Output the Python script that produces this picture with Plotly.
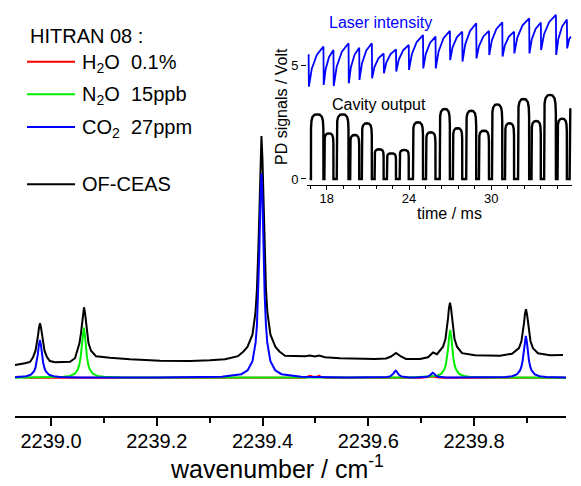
import plotly.graph_objects as go

# ---------------- main spectrum (wavenumber / cm-1, absorption in arbitrary units) ----------------
wn_tick_vals = [2239.0, 2239.2, 2239.4, 2239.6, 2239.8]
wn_tick_text = ["2239.0", "2239.2", "2239.4", "2239.6", "2239.8"]

h2o_wn = [2238.932, 2238.936, 2238.939, 2238.944, 2238.960, 2239.480, 2239.487, 2239.490, 2239.494, 2239.499,
          2239.504, 2239.507, 2239.511, 2239.518, 2239.700, 2239.716, 2239.721, 2239.726, 2239.740, 2239.974]
h2o_abs = [0.008, 0.012, 0.010, 0.004, 0.0, 0.0, 0.012, 0.020, 0.012, 0.006,
           0.012, 0.018, 0.008, 0.0, 0.0, 0.006, 0.012, 0.006, 0.0, 0.0]

n2o_wn = [2238.932, 2238.987, 2239.024, 2239.036, 2239.045, 2239.051, 2239.0535, 2239.056, 2239.058, 2239.060,
          2239.062, 2239.064, 2239.066, 2239.068, 2239.0705, 2239.073, 2239.079, 2239.088, 2239.100, 2239.137,
          2239.680, 2239.717, 2239.729, 2239.738, 2239.744, 2239.7465, 2239.749, 2239.751, 2239.753, 2239.755,
          2239.757, 2239.759, 2239.761, 2239.7635, 2239.766, 2239.772, 2239.781, 2239.793, 2239.830, 2239.974]
n2o_abs = [0.0, 0.002, 0.009, 0.018, 0.040, 0.087, 0.129, 0.206, 0.305, 0.431,
           0.500, 0.431, 0.305, 0.206, 0.129, 0.087, 0.040, 0.018, 0.009, 0.002,
           0.002, 0.008, 0.017, 0.038, 0.083, 0.123, 0.196, 0.291, 0.411, 0.477,
           0.411, 0.291, 0.196, 0.123, 0.083, 0.038, 0.017, 0.008, 0.002, 0.0]

co2_wn = [2238.932, 2238.941, 2238.953, 2238.962, 2238.968, 2238.9705, 2238.973, 2238.975, 2238.977, 2238.979,
          2238.981, 2238.983, 2238.985, 2238.9875, 2238.990, 2238.996, 2239.005, 2239.017, 2239.054, 2239.200,
          2239.323, 2239.360, 2239.372, 2239.381, 2239.387, 2239.3895, 2239.392, 2239.394, 2239.396, 2239.398,
          2239.400, 2239.402, 2239.404, 2239.4065, 2239.409, 2239.415, 2239.424, 2239.436, 2239.473, 2239.560,
          2239.614, 2239.626, 2239.635, 2239.641, 2239.646, 2239.648, 2239.650, 2239.652, 2239.654, 2239.656,
          2239.658, 2239.663, 2239.669, 2239.678, 2239.690,
          2239.705, 2239.711, 2239.716, 2239.718, 2239.720, 2239.722, 2239.724, 2239.726, 2239.728, 2239.733,
          2239.739, 2239.748, 2239.760,
          2239.823, 2239.860, 2239.872, 2239.881, 2239.887, 2239.8895, 2239.892, 2239.894, 2239.896, 2239.898,
          2239.900, 2239.902, 2239.904, 2239.9065, 2239.909, 2239.915, 2239.924, 2239.936, 2239.974]
co2_abs = [0.004, 0.006, 0.014, 0.030, 0.065, 0.097, 0.155, 0.230, 0.325, 0.377,
           0.325, 0.230, 0.155, 0.097, 0.065, 0.030, 0.014, 0.006, 0.002, 0.001,
           0.009, 0.035, 0.074, 0.164, 0.354, 0.527, 0.840, 1.247, 1.762, 2.044,
           1.762, 1.247, 0.840, 0.527, 0.354, 0.164, 0.074, 0.035, 0.009, 0.002,
           0.001, 0.003, 0.006, 0.012, 0.029, 0.043, 0.060, 0.070, 0.060, 0.043,
           0.029, 0.012, 0.006, 0.003, 0.002,
           0.004, 0.009, 0.021, 0.031, 0.043, 0.050, 0.043, 0.031, 0.021, 0.009,
           0.004, 0.002, 0.001,
           0.002, 0.007, 0.015, 0.033, 0.072, 0.108, 0.171, 0.254, 0.359, 0.417,
           0.359, 0.254, 0.171, 0.108, 0.072, 0.033, 0.015, 0.007, 0.003]

ceas_wn = [2238.9319, 2238.9414, 2238.9508, 2238.9603, 2238.9660, 2238.9707, 2238.9735, 2238.9754, 2238.9773, 2238.9792,
           2238.9811, 2238.9830, 2238.9849, 2238.9877, 2238.9924, 2238.9980, 2239.0076, 2239.0208, 2239.0359, 2239.0454,
           2239.0492, 2239.0539, 2239.0567, 2239.0586, 2239.0605, 2239.0624, 2239.0643, 2239.0662, 2239.0681, 2239.0709,
           2239.0756, 2239.0851, 2239.1116, 2239.1494, 2239.2061, 2239.2629, 2239.3007, 2239.3291, 2239.3535, 2239.3640,
           2239.3715, 2239.3810, 2239.3867, 2239.3895, 2239.3923, 2239.3942, 2239.3961, 2239.3980, 2239.3999, 2239.4018,
           2239.4037, 2239.4065, 2239.4093, 2239.4150, 2239.4245, 2239.4320, 2239.4426, 2239.4671, 2239.4804, 2239.4898,
           2239.4993, 2239.5069, 2239.5182, 2239.5466, 2239.5844, 2239.6128, 2239.6336, 2239.6430, 2239.6525, 2239.6619,
           2239.6714, 2239.6979, 2239.7130, 2239.7225, 2239.7300, 2239.7414, 2239.7461, 2239.7489, 2239.7508, 2239.7527,
           2239.7546, 2239.7565, 2239.7584, 2239.7603, 2239.7631, 2239.7678, 2239.7773, 2239.8019, 2239.8303, 2239.8492,
           2239.8719, 2239.8851, 2239.8898, 2239.8926, 2239.8945, 2239.8964, 2239.8983, 2239.9002, 2239.9021, 2239.9040,
           2239.9068, 2239.9115, 2239.9210, 2239.9437, 2239.9683]
ceas_abs = [0.127, 0.134, 0.144, 0.157, 0.205, 0.270, 0.345, 0.420, 0.500, 0.544,
            0.500, 0.420, 0.345, 0.270, 0.205, 0.167, 0.154, 0.154, 0.160, 0.195,
            0.269, 0.347, 0.445, 0.543, 0.649, 0.704, 0.649, 0.543, 0.445, 0.347,
            0.269, 0.215, 0.200, 0.184, 0.170, 0.167, 0.174, 0.184, 0.215, 0.262,
            0.307, 0.430, 0.650, 0.888, 1.310, 1.732, 2.190, 2.417, 2.190, 1.732,
            1.310, 0.888, 0.650, 0.430, 0.307, 0.262, 0.220, 0.214, 0.214, 0.222,
            0.212, 0.222, 0.204, 0.194, 0.187, 0.187, 0.192, 0.212, 0.247, 0.212,
            0.187, 0.187, 0.204, 0.252, 0.235, 0.310, 0.390, 0.490, 0.590, 0.698,
            0.750, 0.698, 0.590, 0.490, 0.390, 0.310, 0.245, 0.224, 0.221, 0.220,
            0.240, 0.296, 0.367, 0.455, 0.543, 0.639, 0.684, 0.639, 0.543, 0.455,
            0.367, 0.296, 0.245, 0.224, 0.227]

# ---------------- inset: photodiode signals (time / ms, signal / V) ----------------
time_tick_vals = [18, 24, 30]
volt_tick_vals = [0, 5]

hump_start = [16.85, 17.83, 18.73, 19.71, 20.56, 21.49, 22.39, 23.32, 24.29, 25.24,
              26.24, 27.20, 28.17, 29.10, 30.05, 31.00, 31.95, 32.93, 33.85, 34.83]
hump_end = [17.76, 18.49, 19.59, 20.37, 21.29, 22.15, 23.05, 23.98, 25.02, 25.93,
            26.98, 27.88, 28.90, 29.83, 30.80, 31.66, 32.76, 33.61, 34.71, 35.51]
hump_top = [2.85, 2.01, 2.85, 1.94, 2.46, 1.31, 1.13, 1.28, 2.50, 2.06,
            3.09, 2.24, 3.01, 2.13, 3.29, 2.46, 3.53, 2.56, 3.71, 2.66]
cavity_tail_t = [35.71, 35.72, 35.76]
cavity_tail_v = [0.0, 2.90, 3.12]

laser_drop_t = [16.68, 17.76, 18.49, 19.59, 20.37, 21.29, 22.15, 23.05, 23.98, 25.02, 25.93,
                26.98, 27.88, 28.90, 29.83, 30.80, 31.66, 32.76, 33.61, 34.71, 35.51]
laser_high = [5.47, 5.84, 5.69, 5.99, 5.79, 5.99, 5.54, 5.72, 5.91, 6.35, 6.28,
              6.54, 6.50, 6.87, 6.53, 6.91, 6.50, 7.09, 6.90, 7.24, 7.04]
laser_low = [4.07, 4.15, 4.10, 4.22, 4.37, 4.44, 4.66, 4.74, 4.81, 4.88, 4.88,
             5.25, 5.18, 5.32, 5.47, 5.40, 5.54, 5.54, 5.69, 5.47, 5.76]
laser_tail_t = 35.80
laser_tail_v = 6.28

# ---------------- build inset paths from the read values ----------------
hump_frac = [0.0, 0.005, 0.04, 0.12, 0.3, 0.5, 0.7, 0.88, 0.96, 0.995, 1.0]
hump_form = [0.0, 0.78, 0.90, 0.96, 0.995, 1.0, 0.995, 0.96, 0.90, 0.78, 0.0]
cav_t, cav_v = [16.75], [0.0]
for s, e, h in zip(hump_start, hump_end, hump_top):
    for f, g in zip(hump_frac, hump_form):
        cav_t.append(s + f * (e - s))
        cav_v.append(g * h)
cav_t += cavity_tail_t
cav_v += cavity_tail_v

las_t, las_v = [laser_drop_t[0] - 0.03], [laser_high[0]]
n = len(laser_drop_t)
for i in range(n):
    t0 = laser_drop_t[i]
    las_t += [t0, t0 + 0.02]
    las_v += [laser_high[i], laser_low[i]]
    if i + 1 < n:
        t1, target = laser_drop_t[i + 1], laser_high[i + 1]
    else:
        t1, target = laser_tail_t, laser_tail_v
    dt = t1 - t0 - 0.02
    rise = target - laser_low[i]
    las_t += [t0 + 0.02 + 0.2 * dt, t0 + 0.02 + 0.55 * dt]
    las_v += [laser_low[i] + 0.45 * rise, laser_low[i] + 0.8 * rise]
    if i + 1 == n:
        las_t.append(t1)
        las_v.append(target)

# ---------------- figure ----------------
FONT = "Liberation Sans, Arial, sans-serif"
W, H = 581, 486
ML, MR, MT, MB = 15, 9, 5, 70
PW = W - ML - MR
PH = H - MT - MB


def pxx(x):
    return (x - ML) / PW


def pxy(y):
    return (MT + PH - y) / PH


fig = go.Figure()
fig.add_trace(go.Scatter(x=ceas_wn, y=ceas_abs, mode="lines", line=dict(color="black", width=2),
                         showlegend=False, hoverinfo="skip"))
fig.add_trace(go.Scatter(x=h2o_wn, y=h2o_abs, mode="lines", line=dict(color="#ff0000", width=2),
                         showlegend=False, hoverinfo="skip"))
fig.add_trace(go.Scatter(x=n2o_wn, y=n2o_abs, mode="lines", line=dict(color="#00ee00", width=2),
                         showlegend=False, hoverinfo="skip"))
fig.add_trace(go.Scatter(x=co2_wn, y=co2_abs, mode="lines", line=dict(color="#0000ff", width=2),
                         showlegend=False, hoverinfo="skip"))

fig.add_trace(go.Scatter(x=las_t, y=las_v, mode="lines", line=dict(color="#0000ff", width=1.8),
                         xaxis="x2", yaxis="y2", showlegend=False, hoverinfo="skip"))
fig.add_trace(go.Scatter(x=cav_t, y=cav_v, mode="lines", line=dict(color="black", width=2.4),
                         xaxis="x2", yaxis="y2", showlegend=False, hoverinfo="skip"))

fig.update_layout(
    width=W, height=H, autosize=False,
    margin=dict(l=ML, r=MR, t=MT, b=MB, pad=0),
    paper_bgcolor="white", plot_bgcolor="white",
    font=dict(family=FONT, color="black"),
    xaxis=dict(domain=[0, (566 - ML) / PW], range=[2238.9319, 2239.974], anchor="y",
               showline=True, linecolor="black", linewidth=1.5, mirror=False,
               ticks="outside", ticklen=8, tickwidth=1.5, tickcolor="black",
               tickmode="array", tickvals=wn_tick_vals, ticktext=wn_tick_text,
               tickfont=dict(size=20, family=FONT, color="black"),
               ticklabelstandoff=-2,
               showgrid=False, zeroline=False,
               minor=dict(tickmode="linear", tick0=2239.0, dtick=0.1, ticks="outside",
                          ticklen=5, tickwidth=1.5, tickcolor="black", showgrid=False)),
    yaxis=dict(domain=[0, 1], range=[-0.383, 3.727], visible=False, anchor="x"),
    xaxis2=dict(domain=[pxx(307), 1.0], range=[16.562, 35.883], anchor="y2",
                showline=True, linecolor="black", linewidth=1.2,
                ticks="outside", ticklen=4, tickwidth=1.2, tickcolor="black",
                tickmode="array", tickvals=time_tick_vals,
                tickfont=dict(size=13, family=FONT, color="black"),
                ticklabelstandoff=-3,
                showgrid=False, zeroline=False,
                minor=dict(tickmode="linear", tick0=18, dtick=1.2, ticks="outside",
                           ticklen=3, tickwidth=1.2, tickcolor="black", showgrid=False)),
    yaxis2=dict(domain=[pxy(185), pxy(8)], range=[-0.265, 7.543], anchor="x2",
                showline=False, ticks="outside", ticklen=5, tickwidth=1.2, tickcolor="black",
                tickmode="array", tickvals=volt_tick_vals,
                tickfont=dict(size=13, family=FONT, color="black"),
                showgrid=False, zeroline=False),
)

# legend drawn as lines + text
legend_rows = [
    ("#ff0000", "H<sub>2</sub>O&nbsp; 0.1%", 61.7),
    ("#00ee00", "N<sub>2</sub>O&nbsp; 15ppb", 94.3),
    ("#0000ff", "CO<sub>2</sub>&nbsp; 27ppm", 127.0),
    ("black", "OF-CEAS", 184.3),
]
shapes = []
annotations = [dict(x=pxx(28), y=pxy(36), xref="paper", yref="paper", text="HITRAN 08 :",
                    showarrow=False, xanchor="left", yanchor="middle",
                    font=dict(size=20, family=FONT, color="black"))]
for col, label, ypix in legend_rows:
    shapes.append(dict(type="line", xref="paper", yref="paper", x0=pxx(27), x1=pxx(75),
                       y0=pxy(ypix), y1=pxy(ypix), line=dict(color=col, width=2)))
    sub = "<sub>" in label
    annotations.append(dict(x=pxx(80), y=pxy(ypix + (1.5 if sub else 0)), xref="paper", yref="paper",
                            text=label, showarrow=False, xanchor="left", yanchor="middle",
                            font=dict(size=20, family=FONT, color="black")))

annotations += [
    dict(x=pxx(380), y=pxy(23), xref="paper", yref="paper", text="Laser intensity",
         showarrow=False, xanchor="center", yanchor="middle",
         font=dict(size=16, family=FONT, color="#0000ff")),
    dict(x=pxx(379), y=pxy(104), xref="paper", yref="paper", text="Cavity output",
         showarrow=False, xanchor="center", yanchor="middle",
         font=dict(size=16, family=FONT, color="black")),
    dict(x=pxx(281), y=pxy(107), xref="paper", yref="paper", text="PD signals / Volt",
         showarrow=False, xanchor="center", yanchor="middle", textangle=-90,
         font=dict(size=16, family=FONT, color="black")),
    dict(x=pxx(449), y=pxy(214), xref="paper", yref="paper", text="time / ms",
         showarrow=False, xanchor="center", yanchor="middle",
         font=dict(size=16, family=FONT, color="black")),
    dict(x=pxx(277), y=pxy(467), xref="paper", yref="paper", text="wavenumber / cm<sup>-1</sup>",
         showarrow=False, xanchor="center", yanchor="middle",
         font=dict(size=25, family=FONT, color="black")),
]
fig.update_layout(shapes=shapes, annotations=annotations)

fig.write_html("out.html", config={"displayModeBar": False},
               post_script="document.body.style.margin='0px';")
